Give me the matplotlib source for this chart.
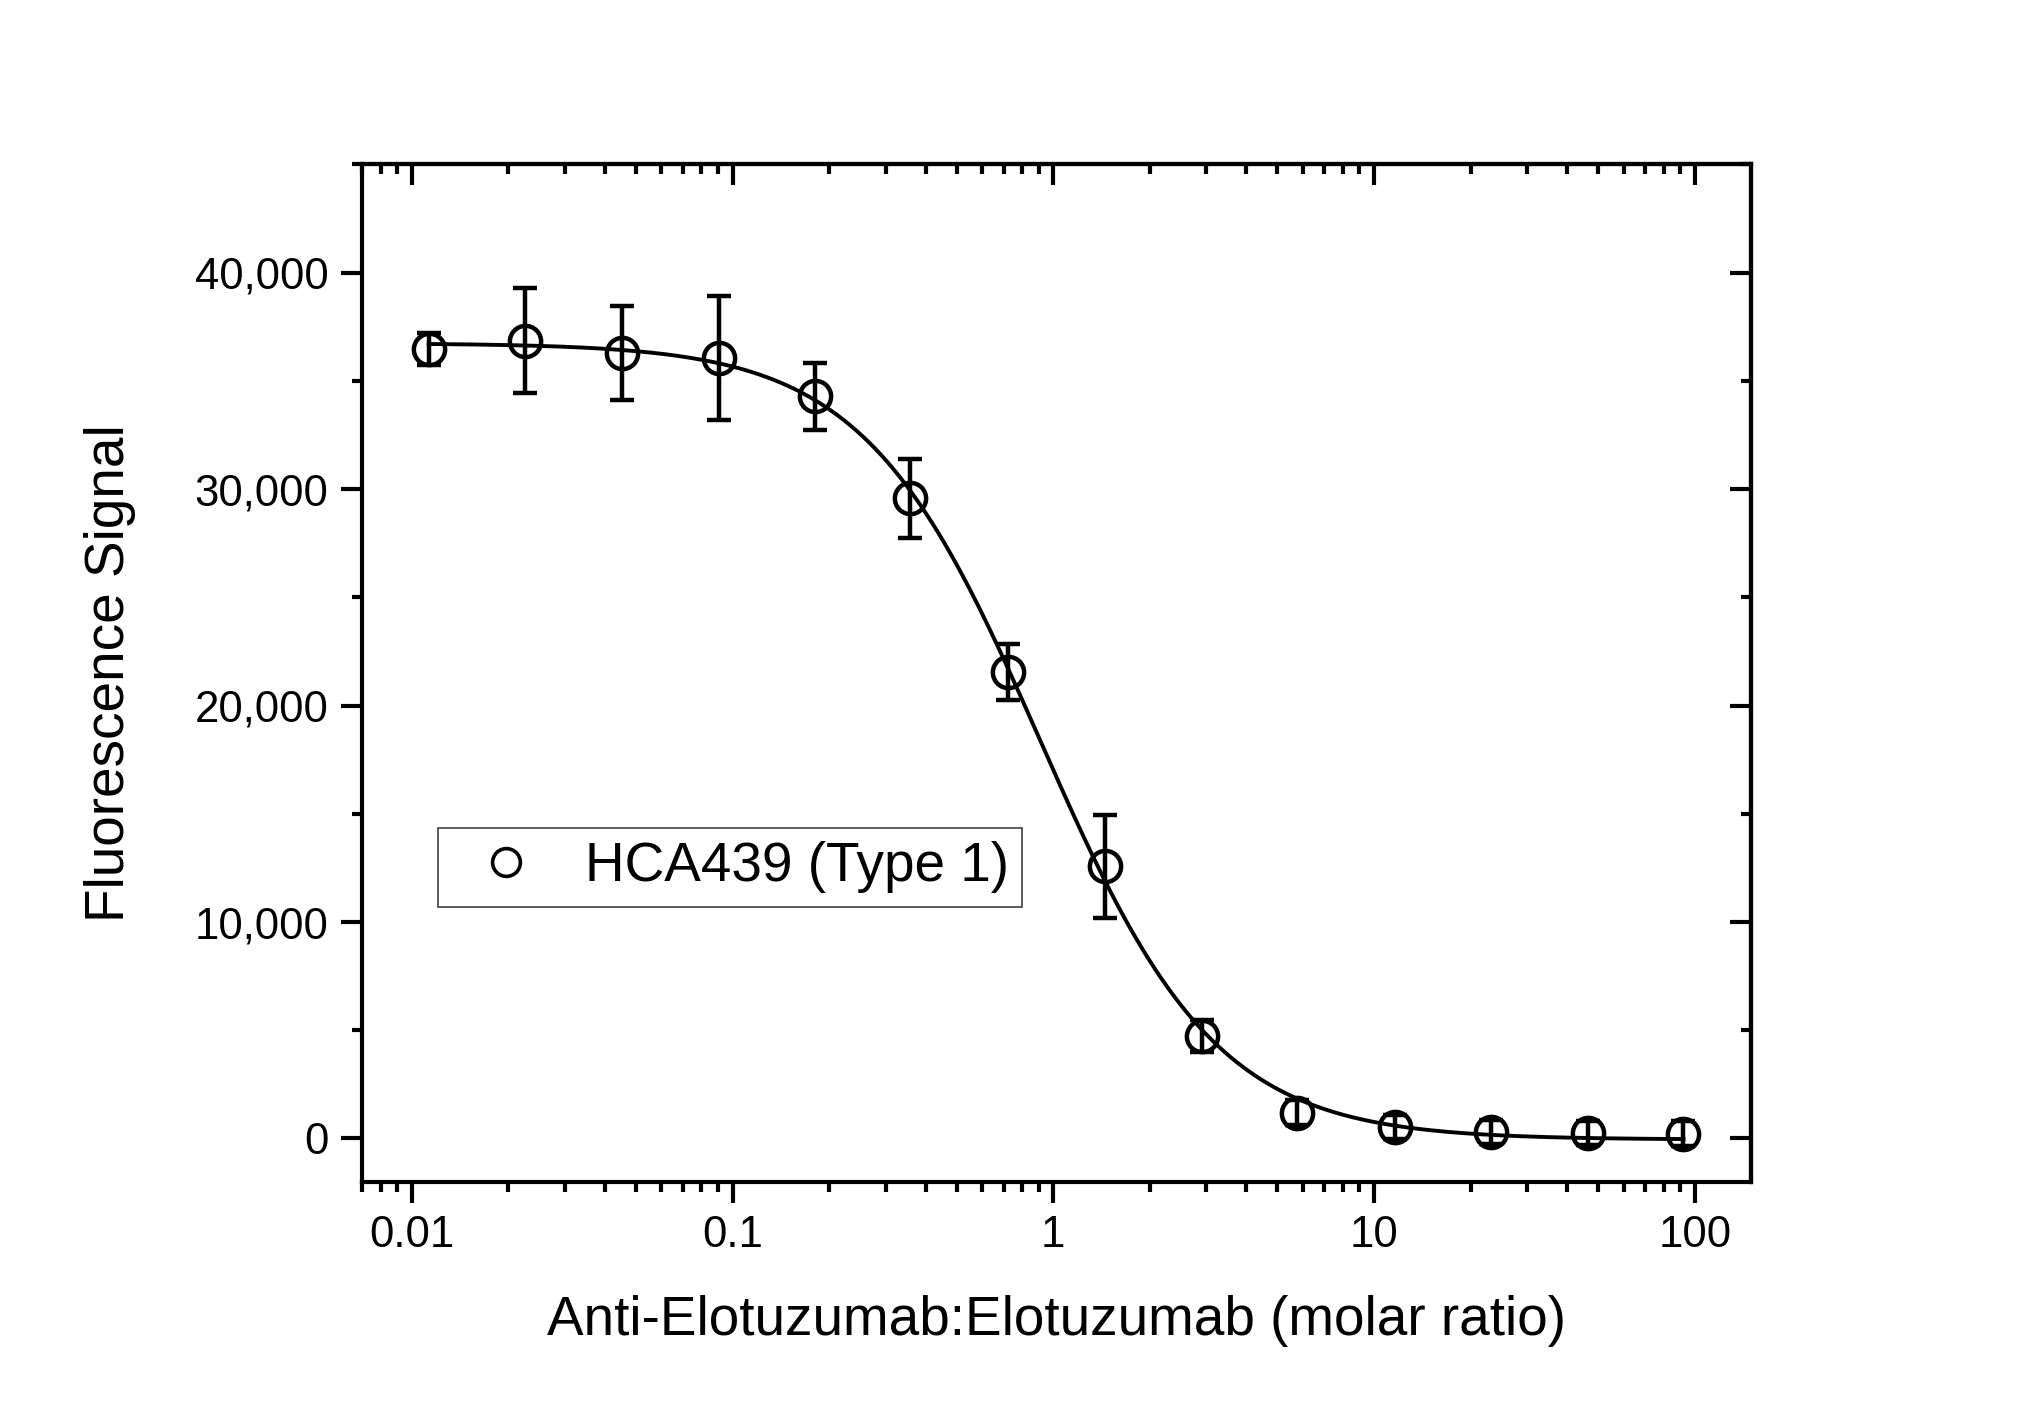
import numpy as np
import matplotlib
matplotlib.use('Agg')
import matplotlib.pyplot as plt
from matplotlib.lines import Line2D
from matplotlib.ticker import FixedLocator, FuncFormatter, LogLocator, MultipleLocator, NullFormatter

ratio = [0.0113, 0.0226, 0.0452, 0.0905, 0.181, 0.358, 0.722, 1.45,
         2.90, 5.76, 11.6, 23.1, 46.3, 92.2]
signal = [36480, 36860, 36270, 36060, 34280, 29570, 21550, 12580,
          4720, 1200, 520, 300, 250, 230]
err = [740, 2440, 2170, 2870, 1530, 1830, 1300, 2380,
       740, 560, 560, 560, 560, 560]
series_name = 'HCA439 (Type 1)'

x_ticks = [0.01, 0.1, 1, 10, 100]
y_ticks = [0, 10000, 20000, 30000, 40000]

LW = 3.0


def four_pl(x, p):
    bot, top, logc, h = p
    return bot + (top - bot) / (1.0 + (x / 10 ** logc) ** h)


def fit_4pl(x, y):
    """plain damped Gauss-Newton fit of the 4-parameter logistic."""
    x = np.asarray(x, float); y = np.asarray(y, float)
    p = np.array([y.min(), y.max(), np.log10(np.median(x)), 1.0])
    lam = 1e-3
    for _ in range(300):
        r = y - four_pl(x, p)
        J = np.empty((len(x), 4))
        for k in range(4):
            dp = np.zeros(4); dp[k] = 1e-6 * max(1.0, abs(p[k]))
            J[:, k] = (four_pl(x, p + dp) - four_pl(x, p - dp)) / (2 * dp[k])
        A = J.T @ J
        step = np.linalg.solve(A + lam * np.diag(np.diag(A)), J.T @ r)
        pn = p + step
        if np.sum((y - four_pl(x, pn)) ** 2) < np.sum(r ** 2):
            p = pn; lam *= 0.3
        else:
            lam *= 10
    return p


params = fit_4pl(ratio, signal)
xs = np.logspace(np.log10(ratio[0]), np.log10(ratio[-1]), 400)

plt.rcParams['font.family'] = ['Liberation Sans', 'DejaVu Sans']

fig = plt.figure(figsize=(20.34, 14.17), dpi=100)
ax = fig.add_axes([0.178, 0.166, 0.683, 0.718])

ax.plot(xs, four_pl(xs, params), '-', color='black', lw=2.8, zorder=2)
ax.errorbar(ratio, signal, yerr=err, fmt='o', ms=22.5, mfc='none', mec='black',
            mew=3.2, ecolor='black', elinewidth=3.2, capsize=8.5, capthick=3.2,
            zorder=3)

ax.set_xscale('log')
ax.set_xlim(0.007, 150)
ax.set_ylim(-2000, 45000)

ax.xaxis.set_major_locator(FixedLocator(x_ticks))
ax.xaxis.set_major_formatter(FuncFormatter(lambda v, _: '%g' % v))
ax.xaxis.set_minor_locator(LogLocator(base=10, subs=np.arange(2, 10)))
ax.xaxis.set_minor_formatter(NullFormatter())
ax.yaxis.set_major_locator(FixedLocator(y_ticks))
ax.yaxis.set_major_formatter(FuncFormatter(lambda v, _: '{:,.0f}'.format(v)))
ax.yaxis.set_minor_locator(MultipleLocator(5000))

for sp in ax.spines.values():
    sp.set_linewidth(LW)
ax.tick_params(which='major', direction='out', length=15, width=LW,
               labelsize=31.5, pad=9)
ax.tick_params(which='minor', direction='out', length=7.5, width=LW)

# mirrored inward ticks on top and right
top = ax.secondary_xaxis('top')
top.xaxis.set_major_locator(FixedLocator(x_ticks))
top.xaxis.set_minor_locator(LogLocator(base=10, subs=np.arange(2, 10)))
top.xaxis.set_major_formatter(NullFormatter())
top.xaxis.set_minor_formatter(NullFormatter())
top.tick_params(which='major', direction='in', length=15, width=LW)
top.tick_params(which='minor', direction='in', length=7.5, width=LW)
right = ax.secondary_yaxis('right')
right.yaxis.set_major_locator(FixedLocator(y_ticks))
right.yaxis.set_minor_locator(MultipleLocator(5000))
right.yaxis.set_major_formatter(NullFormatter())
right.tick_params(which='major', direction='in', length=15, width=LW)
right.tick_params(which='minor', direction='in', length=7.5, width=LW)
for s in (top, right):
    for sp in s.spines.values():
        sp.set_linewidth(LW)

ax.set_xlabel('Anti-Elotuzumab:Elotuzumab (molar ratio)', fontsize=39.5)
ax.set_ylabel('Fluorescence Signal', fontsize=39.5)
ax.xaxis.set_label_coords(0.5, -0.1115)
ax.yaxis.set_label_coords(-0.163, 0.5)

handle = Line2D([], [], ls='none', marker='o', ms=20, mfc='none', mec='black', mew=2.6)
leg = ax.legend([handle], [series_name], loc='lower left',
                bbox_to_anchor=(0.0547, 0.27), borderaxespad=0,
                fontsize=39.5, fancybox=False, framealpha=1, edgecolor='#404040',
                handlelength=1.96, handletextpad=0.46, borderpad=0.25)
leg.get_frame().set_linewidth(1.2)

fig.savefig('out.png', dpi=100, facecolor='white')
